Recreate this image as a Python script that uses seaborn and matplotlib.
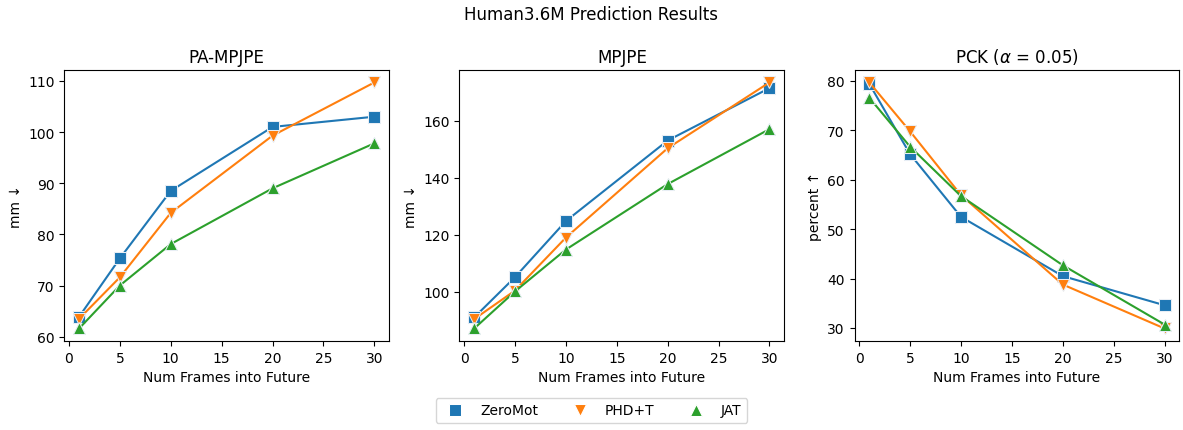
import matplotlib
matplotlib.use("Agg")
import matplotlib.pyplot as plt
from matplotlib.lines import Line2D
import seaborn as sns

frames = [1, 5, 10, 20, 30]
methods = ["ZeroMot", "PHD+T", "JAT"]

pa_zeromot = [63.9, 75.3, 88.5, 101.0, 103.0]
pa_phdt = [63.5, 71.6, 84.2, 99.3, 109.7]
pa_jat = [61.6, 70.0, 78.1, 89.0, 97.8]

mpjpe_zeromot = [91.0, 105.1, 124.8, 153.1, 171.5]
mpjpe_phdt = [90.4, 100.4, 119.0, 150.4, 173.5]
mpjpe_jat = [87.1, 100.1, 114.8, 137.8, 157.1]

pck_zeromot = [79.4, 65.2, 52.5, 40.5, 34.6]
pck_phdt = [79.7, 69.8, 56.9, 38.8, 29.9]
pck_jat = [76.6, 66.7, 56.7, 42.7, 30.7]

titles = ["PA-MPJPE", "MPJPE", r"PCK ($\alpha$ = 0.05)"]
ylabels = ["mm \u2193", "mm \u2193", "percent \u2191"]
xlabel = "Num Frames into Future"
suptitle = "Human3.6M Prediction Results"

panels = [
    [pa_zeromot, pa_phdt, pa_jat],
    [mpjpe_zeromot, mpjpe_phdt, mpjpe_jat],
    [pck_zeromot, pck_phdt, pck_jat],
]

colors = ["#1f77b4", "#ff7f0e", "#2ca02c"]
markers = ["s", "v", "^"]

fig, axes = plt.subplots(1, 3, figsize=(11.83, 4.31), dpi=100)
fig.subplots_adjust(left=0.0544, right=0.9969, top=0.835, bottom=0.207, wspace=0.2165)

for ax, series, title, ylabel in zip(axes, panels, titles, ylabels):
    for vals, c, m, name in zip(series, colors, markers, methods):
        sns.lineplot(x=frames, y=vals, color=c, marker=m, markersize=8,
                     markeredgecolor="#e8eef5", markeredgewidth=0.75,
                     linewidth=1.5, ax=ax, legend=False)
    ax.set_title(title, fontsize=12)
    ax.set_xlabel(xlabel)
    ax.set_ylabel(ylabel)
    ax.set_xticks([0, 5, 10, 15, 20, 25, 30])

handles = [Line2D([], [], color=c, marker=m, linestyle="none", markersize=8,
                  markeredgecolor="w", markeredgewidth=0.75)
           for c, m in zip(colors, markers)]
fig.legend(handles, methods, loc="lower center", ncol=3, bbox_to_anchor=(0.5, 0.0))
fig.suptitle(suptitle, fontsize=12, y=0.985)

fig.savefig("out.png", dpi=100)
